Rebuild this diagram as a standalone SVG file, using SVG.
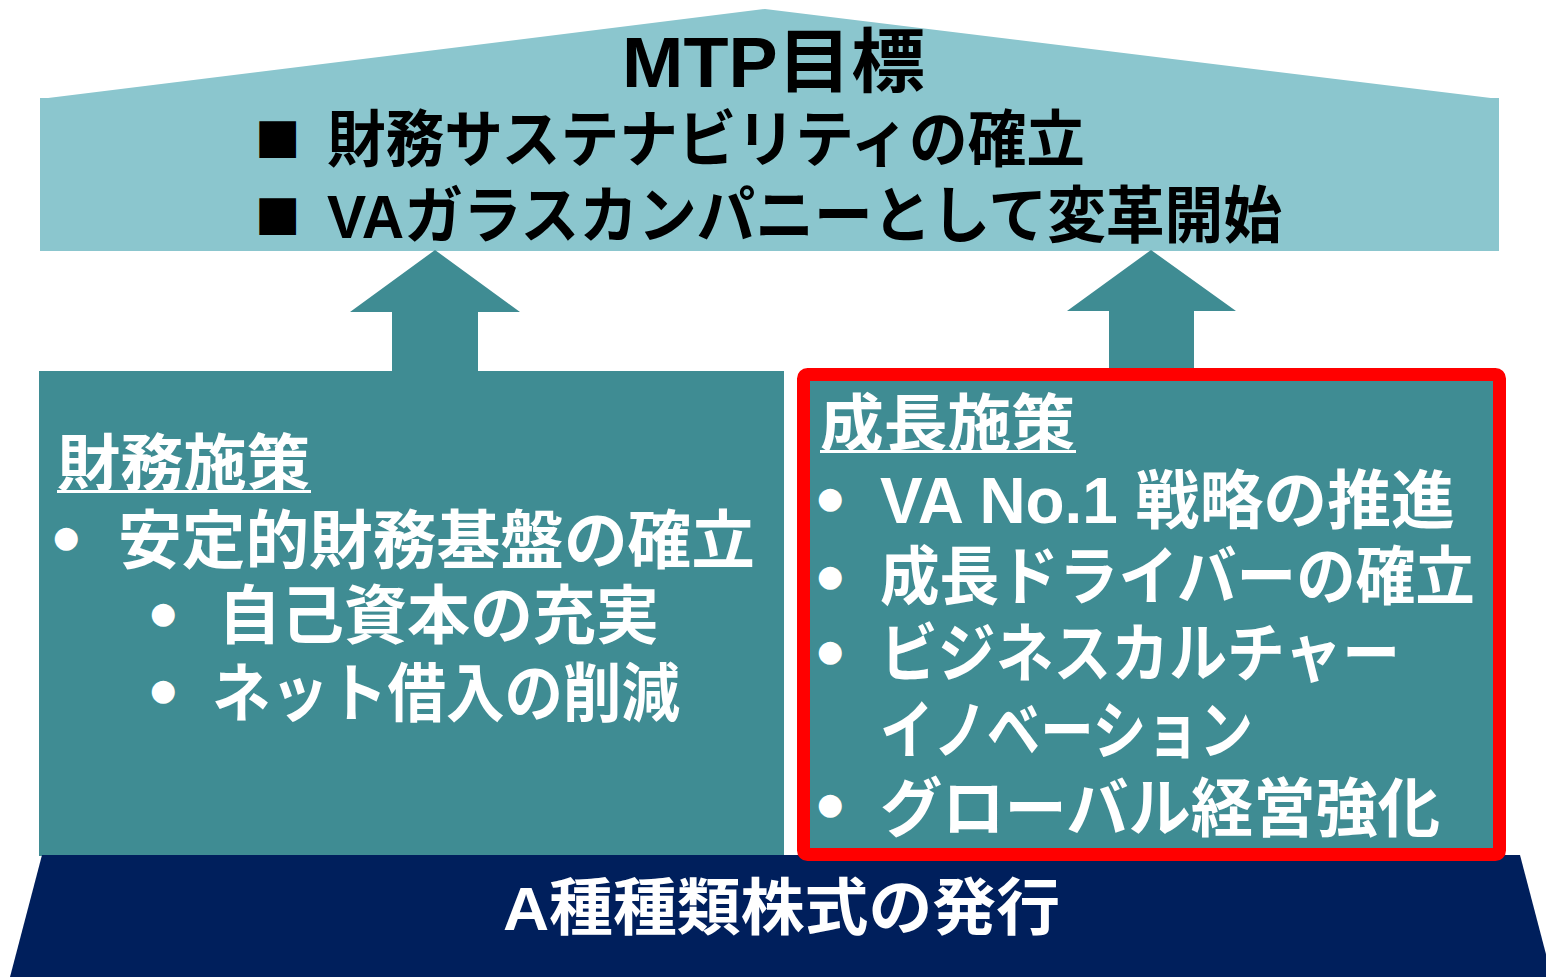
<svg xmlns="http://www.w3.org/2000/svg" width="1546" height="977" viewBox="0 0 1546 977">
<style>
.t{font-family:"Liberation Sans","Noto Sans CJK JP",sans-serif;font-weight:bold}
.b{fill:#000}
.w{fill:#fff}
.sq{font-family:"DejaVu Sans",sans-serif;font-size:48px;fill:#000}
.bul{font-family:"DejaVu Sans",sans-serif;font-size:30px;fill:#fff;text-anchor:middle}
.light{fill:#8BC6CE}
.teal{fill:#3F8C93}
</style>
<rect width="1546" height="977" fill="#fff"/>
<g id="goal">
<polygon class="light" points="765,9 1499,99 40,99"/>
<rect class="light" x="40" y="98" width="1459" height="153"/>
<text class="t b" x="622" y="87" font-size="70" textLength="303" lengthAdjust="spacingAndGlyphs">MTP目標</text>
<text class="sq" x="255" y="152">■</text>
<text class="t b" x="327" y="162" font-size="62" textLength="758" lengthAdjust="spacingAndGlyphs">財務サステナビリティの確立</text>
<text class="sq" x="255" y="229">■</text>
<text class="t b" x="327" y="238" font-size="62" textLength="955" lengthAdjust="spacingAndGlyphs">VAガラスカンパニーとして変革開始</text>
</g>
<g id="connectors">
<polygon class="teal" points="435,250 520,312 478,312 478,372 392,372 392,312 350,312"/>
<polygon class="teal" points="1151,250 1236,311 1194,311 1194,370 1109,370 1109,311 1067,311"/>
</g>
<g id="financial">
<rect class="teal" x="39" y="371" width="745" height="485"/>
<text class="t w" x="57" y="486" font-size="62" textLength="253" lengthAdjust="spacingAndGlyphs">財務施策</text>
<rect class="w" x="57" y="490" width="254" height="3"/>
<text class="bul" x="66" y="547">●</text>
<text class="t w" x="118" y="563" font-size="64" textLength="637" lengthAdjust="spacingAndGlyphs">安定的財務基盤の確立</text>
<text class="bul" x="163" y="623">●</text>
<text class="t w" x="218" y="638" font-size="64" textLength="441" lengthAdjust="spacingAndGlyphs">自己資本の充実</text>
<text class="bul" x="163" y="700">●</text>
<text class="t w" x="212" y="716" font-size="64" textLength="468" lengthAdjust="spacingAndGlyphs">ネット借入の削減</text>
</g>
<g id="base">
<polygon points="42,855 1520,855 1552,977 10,977" fill="#001F5C"/>
<text class="t w" x="503" y="930" font-size="62" textLength="557" lengthAdjust="spacingAndGlyphs">A種種類株式の発行</text>
</g>
<g id="growth">
<rect x="803.5" y="374.5" width="696" height="480" rx="4" fill="#3F8C93" stroke="#FF0000" stroke-width="13"/>
<text class="t w" x="820" y="446" font-size="62" textLength="255" lengthAdjust="spacingAndGlyphs">成長施策</text>
<rect class="w" x="820" y="450" width="256" height="3"/>
<text class="bul" x="830" y="508">●</text>
<text class="t w" x="880" y="523" font-size="64" textLength="575" lengthAdjust="spacingAndGlyphs">VA No.1 戦略の推進</text>
<text class="bul" x="830" y="586">●</text>
<text class="t w" x="880" y="599" font-size="64" textLength="595" lengthAdjust="spacingAndGlyphs">成長ドライバーの確立</text>
<text class="bul" x="830" y="661">●</text>
<text class="t w" x="880" y="676" font-size="64" textLength="520" lengthAdjust="spacingAndGlyphs">ビジネスカルチャー</text>
<text class="t w" x="880" y="753" font-size="64" textLength="373" lengthAdjust="spacingAndGlyphs">イノベーション</text>
<text class="bul" x="830" y="814">●</text>
<text class="t w" x="880" y="831" font-size="64" textLength="560" lengthAdjust="spacingAndGlyphs">グローバル経営強化</text>
</g>
</svg>
